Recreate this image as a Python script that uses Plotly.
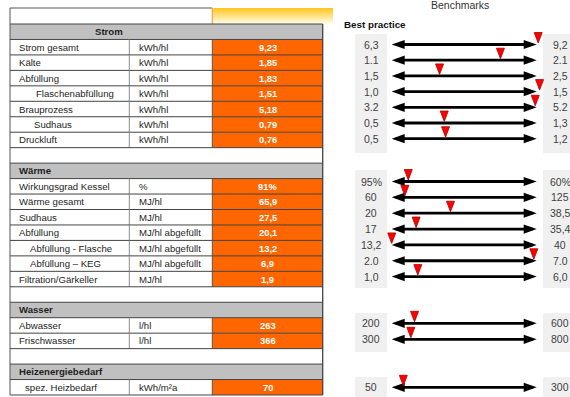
import plotly.graph_objects as go

# ---------------------------------------------------------------- data
strom_labels = ["Strom gesamt", "Kälte", "Abfüllung", "Flaschenabfüllung",
                "Brauprozess", "Sudhaus", "Druckluft"]
strom_units = ["kWh/hl"] * 7
strom_values = ["9,23", "1,85", "1,83", "1,51", "5,18", "0,79", "0,76"]
strom_best = ["6,3", "1.1", "1,5", "1,0", "3.2", "0,5", "0,5"]
strom_worst = ["9,2", "2.1", "2,5", "1,5", "5.2", "1,3", "1,2"]

waerme_labels = ["Wirkungsgrad Kessel", "Wärme gesamt", "Sudhaus", "Abfüllung",
                 "Abfüllung - Flasche", "Abfüllung – KEG", "Filtration/Gärkeller"]
waerme_units = ["%", "MJ/hl", "MJ/hl", "MJ/hl abgefüllt", "MJ/hl abgefüllt",
                "MJ/hl abgefüllt", "MJ/hl"]
waerme_values = ["91%", "65,9", "27,5", "20,1", "13,2", "6,9", "1,9"]
waerme_best = ["95%", "60", "20", "17", "13,2", "2.0", "1,0"]
waerme_worst = ["60%", "125", "38,5", "35,4", "40", "7.0", "6,0"]

wasser_labels = ["Abwasser", "Frischwasser"]
wasser_units = ["l/hl", "l/hl"]
wasser_values = ["263", "366"]
wasser_best = ["200", "300"]
wasser_worst = ["600", "800"]

heiz_labels = ["spez. Heizbedarf"]
heiz_units = ["kWh/m²a"]
heiz_values = ["70"]
heiz_best = ["50"]
heiz_worst = ["300"]


def num(s):
    """Parse a displayed number such as '9,23', '1.1' or '91%'."""
    return float(s.replace(",", ".").rstrip("%"))


# ---------------------------------------------------------------- layout
W, H = 570, 397
FONT = "Arial, Liberation Sans, sans-serif"
TXT = "#1e1e1e"
X0, XC1, XC2, X1 = 10.0, 129.3, 212.3, 322.7
ROW_TOP = 24.0
ROW_H = 371.0 / 24
ARROW_L, ARROW_R = 391.7, 536.7
HEAD_L, HEAD_HALF = 13.0, 4.6
BOX_L = (355, 387)
BOX_R = (543, 572)

sections = [
    dict(title="Strom", centered=True, labels=strom_labels, units=strom_units,
         values=strom_values, best=strom_best, worst=strom_worst,
         indent=[17, 17, 17, 34, 17, 32, 17],
         arrow_y0=44.5, arrow_pitch=15.7, box=(34, 153)),
    dict(title="Wärme", centered=False, labels=waerme_labels, units=waerme_units,
         values=waerme_values, best=waerme_best, worst=waerme_worst,
         indent=[17, 17, 17, 17, 28, 28, 17],
         arrow_y0=181.5, arrow_pitch=15.85, box=(170, 288)),
    dict(title="Wasser", centered=False, labels=wasser_labels, units=wasser_units,
         values=wasser_values, best=wasser_best, worst=wasser_worst,
         indent=[17, 17],
         arrow_y0=323.3, arrow_pitch=16.0, box=(313, 352)),
    dict(title="Heizenergiebedarf", centered=False, labels=heiz_labels,
         units=heiz_units, values=heiz_values, best=heiz_best, worst=heiz_worst,
         indent=[23],
         arrow_y0=387.3, arrow_pitch=16.0, box=(377, 399)),
]

shapes, annots = [], []


def rect(x0, y0, x1, y1, fill):
    shapes.append(dict(type="rect", xref="x", yref="y", x0=x0, y0=y0, x1=x1, y1=y1,
                       fillcolor=fill, line=dict(width=0), layer="below"))


def line(x0, y0, x1, y1, color, width=1.0):
    shapes.append(dict(type="line", xref="x", yref="y", x0=x0, y0=y0, x1=x1, y1=y1,
                       line=dict(color=color, width=width), layer="below"))


def text(x, y, s, size=9.6, color=TXT, bold=False, anchor="left"):
    annots.append(dict(x=x, y=y, xref="x", yref="y", text=f"<b>{s}</b>" if bold else s,
                       showarrow=False, xanchor=anchor, yanchor="middle",
                       font=dict(family=FONT, size=size, color=color)))


# header cell with gold gradient above the value column
strips = 16
for i in range(strips):
    t = i / (strips - 1)
    r, g, b = 255, int(198 + t * 56), int(36 + t * 194)
    rect(XC2, 8 + i, 333, 9 + i, f"rgb({r},{g},{b})")
line(X0, 8, XC2, 8, "#555555")
line(XC2, 8, XC2, ROW_TOP, "#F0A060", 1.2)

# benchmark heading
text(460, 4.8, "Benchmarks", size=10.5, color="#333333", anchor="center")
text(342, 24.5, "Best practice", size=9.8, color="#111111", bold=True)

tri_x, tri_y = [], []
row = 0
for si, sec in enumerate(sections):
    # section header row
    top = ROW_TOP + row * ROW_H
    rect(X0, top, X1, top + ROW_H, "#C0C0C0")
    line(X0, top, X1, top, "#444444")
    if sec["centered"]:
        text(109, top + ROW_H / 2, sec["title"], bold=True, anchor="center")
    else:
        text(17, top + ROW_H / 2, sec["title"], bold=True)
    row += 1

    # benchmark boxes
    rect(BOX_L[0], sec["box"][0], BOX_L[1], sec["box"][1], "#F0F0F0")
    rect(BOX_R[0], sec["box"][0], BOX_R[1], sec["box"][1], "#F0F0F0")

    for k, lab in enumerate(sec["labels"]):
        top = ROW_TOP + row * ROW_H
        cy = top + ROW_H / 2
        rect(XC2, top, X1, top + ROW_H, "#FF6600")
        line(X0, top, X1, top, "#444444")
        line(XC1, top, XC1, top + ROW_H, "#8C8C8C")
        line(XC2, top, XC2, top + ROW_H, "#555555")
        text(sec["indent"][k], cy, lab)
        text(137, cy, sec["units"][k])
        text((XC2 + X1) / 2, cy, sec["values"][k], size=9.4, color="white",
             bold=True, anchor="center")

        # benchmark scale: double arrow from best practice to upper bound
        ay = sec["arrow_y0"] + k * sec["arrow_pitch"]
        line(ARROW_L + 4, ay, ARROW_R - 4, ay, "black", 2.8)
        shapes.append(dict(type="path", xref="x", yref="y", layer="below",
                           path=f"M{ARROW_L},{ay} L{ARROW_L + HEAD_L},{ay - HEAD_HALF} "
                                f"L{ARROW_L + HEAD_L},{ay + HEAD_HALF} Z",
                           fillcolor="black", line=dict(width=0)))
        shapes.append(dict(type="path", xref="x", yref="y", layer="below",
                           path=f"M{ARROW_R},{ay} L{ARROW_R - HEAD_L},{ay - HEAD_HALF} "
                                f"L{ARROW_R - HEAD_L},{ay + HEAD_HALF} Z",
                           fillcolor="black", line=dict(width=0)))
        text(371, ay, sec["best"][k], size=10.5, color="#404040", anchor="center")
        text(560, ay, sec["worst"][k], size=10.5, color="#404040", anchor="center")

        # red marker: where the value lies between best practice and upper bound
        b, w, v = num(sec["best"][k]), num(sec["worst"][k]), num(sec["values"][k])
        pos = (v - b) / (w - b)
        hw = 4.0 / (ARROW_R - ARROW_L)
        tip = ay - 1.5
        tri_x += [pos - hw, pos + hw, pos, pos - hw, None]
        tri_y += [tip - 10.5, tip - 10.5, tip, tip - 10.5, None]
        row += 1

    # blank separator row
    if si < len(sections) - 1:
        top = ROW_TOP + row * ROW_H
        line(X0, top, X1, top, "#444444")
        row += 1

bottom = ROW_TOP + row * ROW_H
line(X0, bottom, X1, bottom, "#444444")
line(X0, 8, X0, bottom, "#555555")
line(X1, ROW_TOP, X1, bottom, "#444444", 1.3)

fig = go.Figure()
fig.add_trace(go.Scatter(x=tri_x, y=tri_y, xaxis="x2", yaxis="y", mode="lines",
                         fill="toself", fillcolor="#FF0000",
                         line=dict(color="#A80000", width=0.8),
                         hoverinfo="skip", showlegend=False))

pad = 20.0
span = ARROW_R - ARROW_L
fig.update_layout(
    width=W, height=H, margin=dict(l=0, r=0, t=0, b=0),
    paper_bgcolor="white", plot_bgcolor="rgba(0,0,0,0)",
    xaxis=dict(range=[0, W], visible=False, fixedrange=True),
    yaxis=dict(range=[H, 0], visible=False, fixedrange=True),
    xaxis2=dict(domain=[(ARROW_L - pad) / W, (ARROW_R + pad) / W],
                range=[-pad / span, 1 + pad / span], anchor="y",
                visible=False, fixedrange=True),
    shapes=shapes, annotations=annots, showlegend=False,
)
fig.write_html("out.html")
